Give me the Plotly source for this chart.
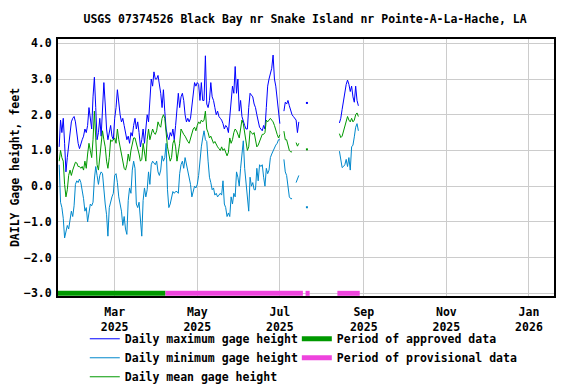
import numpy as np
import pandas as pd
import plotly.graph_objects as go

TITLE = "USGS 07374526 Black Bay nr Snake Island nr Pointe-A-La-Hache, LA"

# daily gage height, feet -- Jan 19 to Jul 1, 2025
spring_max = [
    1.1, 1.85, 1.5, 1.9, 1.2, 0.4, 0.8, 1.2, 1.6, 1.8,
    1.9, 1.95, 1.8, 1.4, 1.2, 1.05, 1.2, 1.3, 1.4, 1.6,
    1.5, 1.7, 2.2, 1.9, 1.6, 2.5, 3.05, 2.2, 1.3, 1.5,
    1.9, 1.4, 2.3, 2.9, 2.3, 1.6, 1.3, 1.5, 1.7, 1.4,
    1.3, 1.9, 2.2, 2.7, 2.3, 2.0, 1.8, 1.9, 1.7, 1.5,
    1.3, 1.4, 1.2, 1.5, 1.4, 1.7, 1.9, 1.6, 1.8, 1.5,
    1.1, 1.3, 1.6, 1.2, 1.7, 2.0, 1.8, 2.4, 3.0, 2.8,
    3.2, 3.0, 3.0, 3.1, 2.9, 2.6, 2.2, 2.7, 2.1, 1.6,
    1.4, 1.3, 1.5, 1.4, 1.6, 1.3, 1.7, 2.3, 2.6, 2.2,
    2.5, 2.6, 2.4, 2.0, 1.8, 1.9, 1.8, 1.9, 2.2, 2.6,
    2.9, 2.8, 2.9, 2.85, 2.4, 2.9, 2.4, 2.4, 3.65, 2.3,
    2.2, 2.4, 2.9, 2.5, 2.4, 2.2, 2.0, 2.1, 1.95, 1.9,
    1.85, 1.75, 1.6, 1.7, 1.65, 1.5, 2.0, 2.5, 2.8, 2.6,
    3.35, 2.6, 3.0, 2.1, 2.4, 1.95, 1.8, 1.7, 1.6, 1.6,
    2.2, 2.6, 2.55, 2.5, 2.3, 2.2, 2.0, 1.8, 1.65, 1.6,
    1.55, 1.7, 1.6, 2.2, 2.8, 3.0, 3.2, 3.3, 3.67, 3.0,
    2.8, 2.4, 2.0, 1.75,
]
spring_min = [
    0.6, -0.45, -0.6, -0.9, -1.45, -1.3, -1.1, -1.2, -0.9, -0.7,
    -0.85, -0.55, 0.05, 0.15, 0.1, 0.2, 0.1, -0.1, -0.35, -0.7,
    -0.6, -1.0, -0.7, -0.5, -0.55, -0.45, 0.2, 0.55, 0.3, 0.05,
    0.3, 0.4, 0.35, -0.15, -0.5, -0.8, -1.4, -0.6, -0.4, -0.3,
    -0.2, 0.3, 0.35, 0.1, -0.3, -0.55, -0.7, -1.1, -0.85, -1.2,
    -1.35, -0.4, -0.05, -0.2, 0.45, 0.7, 0.5, -0.5, -0.6, -0.45,
    -0.9, -1.4, -0.4, -0.05, -0.3, -0.1, 0.4, 0.05, 0.6, 0.7,
    0.65, 0.6, 0.7, 0.4, 0.3, 0.45, 0.85, 0.7, 0.8, 1.2,
    -0.1, -0.6, -0.5, -0.3, -0.15, -0.2, -0.15, -0.15, -0.2, 0.35,
    0.6, 0.7, 0.5, 0.8, 0.6, 0.45, 0.3, 0.05, -0.3, -0.1,
    0.0, -0.05, 0.05, 0.3, 0.8, 1.1, 1.35, 1.55, 1.3, 1.25,
    0.7, 0.25, 0.1, -0.1, -0.05, -0.25, -0.2, -0.3, -0.25, -0.2,
    -0.25, 0.15, -0.5, -0.6, -0.85, -0.75, -0.85, -0.3, -0.5, -0.2,
    -0.3, 0.4, 0.25, 0.0, 0.5, 1.0, 1.27, 0.5, 0.05, -0.4,
    -0.7, 0.25, 0.0, 0.1, -0.1, -0.1, 0.5, 0.15, 0.6, 0.55,
    0.6, 0.25, 0.0, 0.5, 0.35, 0.45, 0.8, 0.9, 1.0, 1.05,
    1.15, 1.2, 1.3, 1.3,
]
spring_mean = [
    0.7, 1.0, 0.8, 0.7, 0.05, -0.3, -0.1, 0.3, 0.45, 0.3,
    0.45, 0.6, 0.67, 0.65, 0.55, 0.55, 0.5, 0.55, 0.45, 0.7,
    0.5, 0.9, 1.2, 1.0, 0.8, 1.3, 2.1, 1.35, 0.6, 0.45,
    0.9, 1.1, 1.55, 1.3, 1.1, 0.7, 0.5, 0.8, 1.3, 1.25,
    1.3, 1.35, 1.2, 1.6, 1.3, 1.1, 0.9, 0.7, 0.5, 0.45,
    0.6, 0.9, 0.7, 1.0, 1.2, 1.35, 1.35, 1.2, 1.1, 0.9,
    0.7, 0.75, 1.2, 0.9, 0.7, 1.3, 1.6, 1.3, 1.45, 1.6,
    1.5, 1.45, 1.55, 1.8, 1.7, 1.65, 1.9, 2.0, 1.9, 1.45,
    1.1, 0.9, 0.7, 0.8, 1.2, 1.3, 1.1, 0.7, 0.9, 1.2,
    1.6, 1.5, 1.45, 1.4, 1.3, 1.25, 1.2, 1.35, 1.45, 1.6,
    1.65, 1.55, 1.7, 1.8, 1.75, 1.85, 1.8, 1.85, 2.1, 1.6,
    1.5, 1.35, 1.4, 1.3, 1.2, 1.25, 1.15, 1.1, 1.05, 1.0,
    1.1, 1.0, 1.05, 0.95, 0.85, 0.95, 1.35, 1.2, 1.3, 1.5,
    1.6, 1.55, 1.45, 1.35, 1.6, 1.85, 1.75, 1.45, 1.2, 1.0,
    1.1, 1.55, 1.5, 1.45, 1.5, 1.25, 1.1, 1.15, 1.25, 1.4,
    1.45, 1.45, 1.5, 1.85, 1.8, 1.85, 1.9, 1.85, 1.8, 1.7,
    1.55, 1.45, 1.35, 1.44,
]

# Jul 4 to Jul 15
july_max = [2.1, 2.35, 2.3, 2.4, 2.25, 2.1, 2.0, 1.95, 1.9, 1.85, 1.5, 1.8]
july_min = [0.75, 0.4, 0.3, -0.1, -0.3, -0.35, -0.35, None, None, 0.1, 0.2, 0.3]
july_mean = [1.54, 1.3, 1.3, 1.15, 1.0, 0.96, 0.96, None, None, 1.22, 1.12, 1.2]

# Jul 21, single day
lone_max = [2.33]
lone_min = [-0.59]
lone_mean = [1.03]

# Aug 14 to Aug 28
aug_max = [1.77, 1.9, 2.15, 2.4, 2.7, 2.85, 2.97, 2.85, 2.65, 2.8, 2.5, 2.35, 2.8, 2.4, 2.25]
aug_min = [0.98, 0.75, 0.52, 0.55, 0.6, 0.75, 0.55, 0.8, 0.45, 1.1, 1.15, 1.38, 1.65, 1.75, 1.55]
aug_mean = [1.47, 1.36, 1.4, 1.55, 1.7, 1.8, 1.95, 1.85, 1.8, 1.9, 1.8, 1.85, 2.0, 2.05, 1.95]

seg_starts = ["2025-01-19", "2025-07-04", "2025-07-21", "2025-08-14"]

approved_periods = [("2025-01-18", "2025-04-07 12:00")]
provisional_periods = [("2025-04-07 12:00", "2025-07-18"),
                       ("2025-07-20", "2025-07-23"),
                       ("2025-08-12 12:00", "2025-08-29")]

days = pd.date_range("2025-01-19", "2025-08-28", freq="D")


def build(parts):
    s = pd.Series(np.nan, index=days)
    for start, vals in zip(seg_starts, parts):
        idx = pd.date_range(start, periods=len(vals), freq="D")
        s.loc[idx] = pd.Series(vals, dtype=float).values
    return s


series = [
    ("Daily maximum gage height", build([spring_max, july_max, lone_max, aug_max]), "#0000ff"),
    ("Daily minimum gage height", build([spring_min, july_min, lone_min, aug_min]), "#0088cc"),
    ("Daily mean gage height", build([spring_mean, july_mean, lone_mean, aug_mean]), "#009900"),
]


def period_xy(periods):
    xs, ys = [], []
    for a, b in periods:
        xs += [a, b, None]
        ys += [-3.0, -3.0, None]
    return xs, ys


FONT = "DejaVu Sans Mono"
fig = go.Figure()

for name, s, color in series:
    fig.add_trace(go.Scatter(x=s.index, y=s.values, mode="lines", name=name,
                             line=dict(color=color, width=1), connectgaps=False,
                             legend="legend"))
    # single days with no neighbours show as a dot
    lone = s.notna() & s.shift(1).isna() & s.shift(-1).isna()
    fig.add_trace(go.Scatter(x=s.index[lone], y=s.values[lone], mode="markers",
                             marker=dict(color=color, size=2, symbol="square"),
                             showlegend=False, hoverinfo="skip"))

ax, ay = period_xy(approved_periods)
px, py = period_xy(provisional_periods)
fig.add_trace(go.Scatter(x=ax, y=ay, mode="lines", name="Period of approved data",
                         line=dict(color="#009900", width=5), legend="legend2"))
fig.add_trace(go.Scatter(x=px, y=py, mode="lines", name="Period of provisional data",
                         line=dict(color="#ee44dd", width=5), legend="legend2"))

legend_font = dict(family=FONT, size=11.5, color="black", weight="bold")
fig.update_layout(
    width=568, height=376,
    margin=dict(l=50, r=22, t=31, b=88, autoexpand=False),
    paper_bgcolor="white", plot_bgcolor="white",
    font=dict(family=FONT, size=11.5, color="black", weight="bold"),
    title=dict(text=TITLE, x=0.523, xanchor="center", y=0.971, yanchor="middle",
               font=dict(family=FONT, size=11.5, color="black", weight="bold")),
    showlegend=True,
    legend=dict(orientation="v", x=0.054, xanchor="left", y=-0.11, yanchor="top",
                font=legend_font, tracegroupgap=0, itemwidth=30,
                bgcolor="rgba(0,0,0,0)"),
    legend2=dict(orientation="v", x=0.4815, xanchor="left", y=-0.11, yanchor="top",
                 font=legend_font, tracegroupgap=0, itemwidth=30,
                 bgcolor="rgba(0,0,0,0)"),
)

fig.update_xaxes(
    type="date", automargin=False,
    range=["2025-01-18 03:00", "2026-01-19 12:00"],
    tickvals=["2025-03-01", "2025-05-01", "2025-07-01", "2025-09-01", "2025-11-01", "2026-01-01"],
    ticktext=["Mar<br>2025", "May<br>2025", "Jul<br>2025", "Sep<br>2025", "Nov<br>2025", "Jan<br>2026"],
    showgrid=True, gridcolor="#cccccc", gridwidth=1,
    showline=True, linecolor="black", linewidth=2, mirror=True,
    ticks="outside", ticklen=4, tickcolor="rgba(0,0,0,0)", zeroline=False,
)
fig.update_yaxes(
    automargin=False,
    range=[-3.075, 4.12],
    tickvals=[-3, -2, -1, 0, 1, 2, 3, 4],
    tickformat=".1f",
    showgrid=True, gridcolor="#cccccc", gridwidth=1,
    showline=True, linecolor="black", linewidth=2, mirror=True,
    ticks="outside", ticklen=2, tickcolor="rgba(0,0,0,0)", zeroline=False,
    title=dict(text="DAILY Gage height, feet", standoff=2,
               font=dict(family=FONT, size=11.5, color="black", weight="bold")),
)

fig.write_html("out.html")
